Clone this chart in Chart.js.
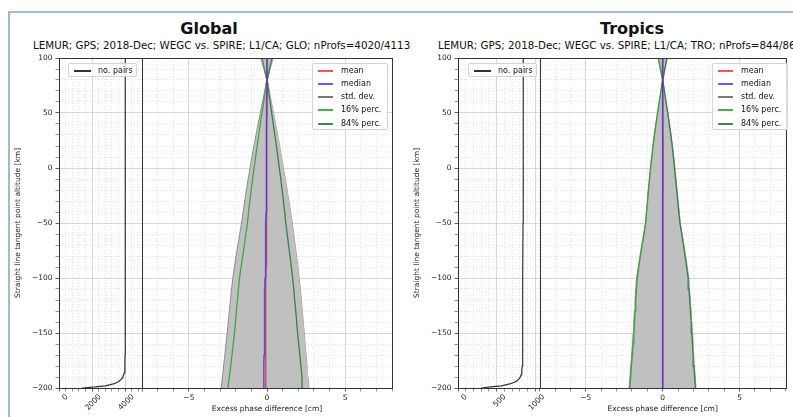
<!DOCTYPE html>
<html>
<head>
<meta charset="utf-8">
<script src="https://cdn.jsdelivr.net/npm/chart.js@4.4.1/dist/chart.umd.min.js"></script>
<style>
  body { margin: 0; width: 793px; height: 417px; overflow: hidden; background: #fff; position: relative; font-family: "DejaVu Sans", sans-serif; color: #111; }
  .frame { position: absolute; left: 8px; top: 11px; width: 900px; height: 500px; border-top: 2px solid #a3b6dd; border-left: 2px solid #a3b6dd; }
  .title { position: absolute; top: 21px; font-size: 16px; line-height: 16px; font-weight: bold; white-space: nowrap; transform: translateX(-50%); }
  .sub { position: absolute; top: 40px; font-size: 10.3px; line-height: 10px; white-space: nowrap; }
  .wrap { position: absolute; top: 50px; height: 367px; }
  .legend { position: absolute; background: rgba(255,255,255,0.85); border: 1px solid #d4d4d4; border-radius: 2px; font-size: 8px; box-sizing: border-box; }
  .row { position: absolute; left: 0; height: 10px; line-height: 10px; white-space: nowrap; }
  .row .ln { position: absolute; top: 4px; height: 2px; }
  .row .tx { position: absolute; top: 0; }
</style>
</head>
<body>
<div class="frame"></div>

<div class="title" style="left:209px">Global</div>
<div class="sub" style="left:33px">LEMUR; GPS; 2018-Dec; WEGC vs. SPIRE; L1/CA; GLO; nProfs=4020/4113</div>
<div class="title" style="left:632px">Tropics</div>
<div class="sub" style="left:438px">LEMUR; GPS; 2018-Dec; WEGC vs. SPIRE; L1/CA; TRO; nProfs=844/866</div>

<div class="wrap" style="left:10px;width:390px"><canvas id="glo"></canvas></div>
<div class="wrap" style="left:409px;width:384px"><canvas id="tro"></canvas></div>

<script>
// altitude levels [km], bottom to top
const alt = [-200, -190, -180, -170, -160, -150, -140, -130, -120, -110, -100, -90, -80, -70, -60, -50,
  -40, -30, -20, -10, 0, 10, 20, 30, 40, 50, 60, 70, 80, 90, 100];

// Global, excess phase difference [cm]
const gloStdLo = [-2.93, -2.85, -2.78, -2.70, -2.63, -2.55, -2.48, -2.41, -2.34, -2.27, -2.19, -2.09, -1.98, -1.87, -1.75, -1.63,
  -1.53, -1.43, -1.32, -1.21, -1.09, -0.97, -0.84, -0.71, -0.57, -0.43, -0.29, -0.15, -0.02, -0.20, -0.40];
const gloStdHi = [2.69, 2.62, 2.56, 2.50, 2.44, 2.38, 2.32, 2.26, 2.20, 2.13, 2.06, 1.98, 1.89, 1.80, 1.71, 1.62,
  1.51, 1.40, 1.29, 1.17, 1.05, 0.93, 0.81, 0.68, 0.55, 0.42, 0.28, 0.15, 0.02, 0.20, 0.40];
const gloP16 = [-2.50, -2.41, -2.32, -2.24, -2.16, -2.08, -2.02, -1.96, -1.89, -1.83, -1.76, -1.66, -1.55, -1.45, -1.35, -1.25,
  -1.18, -1.10, -1.01, -0.92, -0.83, -0.73, -0.63, -0.53, -0.43, -0.32, -0.21, -0.10, -0.01, -0.16, -0.32];
const gloP84 = [2.30, 2.24, 2.17, 2.10, 2.03, 1.96, 1.90, 1.84, 1.77, 1.71, 1.64, 1.56, 1.47, 1.38, 1.29, 1.20,
  1.13, 1.05, 0.97, 0.88, 0.79, 0.70, 0.60, 0.50, 0.40, 0.30, 0.20, 0.10, 0.01, 0.16, 0.32];
const gloMean = [-0.12, -0.11, -0.10, -0.09, -0.09, -0.085, -0.08, -0.075, -0.07, -0.07, -0.065, -0.06, -0.055, -0.05, -0.045, -0.04,
  -0.035, -0.03, -0.03, -0.025, -0.02, -0.015, -0.01, -0.01, -0.005, 0, 0, 0, 0, 0, 0];
const gloMedian = [-0.22, -0.21, -0.20, -0.19, -0.18, -0.17, -0.16, -0.15, -0.14, -0.13, -0.12, -0.11, -0.10, -0.09, -0.08, -0.07,
  -0.06, -0.05, -0.045, -0.04, -0.035, -0.03, -0.025, -0.02, -0.015, -0.01, -0.005, 0, 0, 0, 0];

// Tropics
const troStdLo = [-2.19, -2.13, -2.08, -2.02, -1.97, -1.92, -1.88, -1.84, -1.80, -1.75, -1.70, -1.59, -1.48, -1.36, -1.24, -1.12,
  -1.06, -1.00, -0.94, -0.87, -0.80, -0.72, -0.64, -0.55, -0.45, -0.34, -0.23, -0.12, -0.01, -0.15, -0.30];
const troStdHi = [2.17, 2.12, 2.07, 2.02, 1.98, 1.95, 1.90, 1.85, 1.80, 1.75, 1.70, 1.60, 1.50, 1.38, 1.27, 1.15,
  1.08, 1.01, 0.94, 0.87, 0.80, 0.72, 0.64, 0.55, 0.45, 0.34, 0.23, 0.12, 0.01, 0.15, 0.30];
const troP16 = [-2.14, -2.08, -2.03, -1.97, -1.92, -1.87, -1.83, -1.79, -1.75, -1.70, -1.65, -1.55, -1.44, -1.33, -1.21, -1.10,
  -1.04, -0.98, -0.92, -0.85, -0.78, -0.70, -0.62, -0.53, -0.43, -0.33, -0.22, -0.11, -0.01, -0.14, -0.28];
const troP84 = [2.13, 2.08, 2.03, 1.98, 1.94, 1.90, 1.86, 1.81, 1.76, 1.71, 1.66, 1.56, 1.46, 1.35, 1.24, 1.12,
  1.05, 0.98, 0.91, 0.84, 0.77, 0.70, 0.62, 0.53, 0.43, 0.33, 0.22, 0.11, 0.01, 0.14, 0.28];
const troMean = [0, 0, 0, 0, 0, 0, 0, 0, 0, 0, 0.01, 0.01, 0.01, 0.02, 0.02, 0.02,
  0.02, 0.02, 0.03, 0.03, 0.03, 0.03, 0.03, 0.02, 0.02, 0.02, 0.01, 0.01, 0, 0, 0];
const troMedian = [0, 0, 0, 0, 0, 0, 0, 0, 0, 0, 0, 0, 0, 0, 0, 0,
  0, 0, 0, 0, 0, 0, 0, 0, 0, 0, 0, 0, 0, 0, 0];

// number of pairs per altitude
const pairAlt = [-200, -199, -198, -197, -196, -195, -194, -193, -192, -191, -190, -188, -186, -184, -180, -170, -150, -100, -50, 0, 50, 100];
const gloPairs = [1400, 2200, 2800, 3100, 3350, 3500, 3620, 3700, 3770, 3820, 3860, 3920, 3960, 3980, 3995, 3998, 4000, 4005, 4010, 4015, 4018, 4020];
const troPairs = [300, 420, 560, 630, 680, 720, 750, 770, 785, 795, 805, 815, 822, 826, 830, 833, 835, 838, 840, 842, 843, 844];

const legendLabels = ["mean", "median", "std. dev.", "16% perc.", "84% perc."];

Chart.defaults.font.family = "DejaVu Sans";
Chart.defaults.color = "#222";

const tickFont = { size: 7.5 };
const fmt = v => (v < 0 ? "\u2212" + (-v) : String(v));
const pts = (xs, ys) => ys.map((y, i) => ({ x: xs[i], y: y }));

const frames = {
  id: "frames",
  afterDraw(chart) {
    const { ctx, chartArea: a } = chart;
    ctx.save();
    ctx.strokeStyle = "#333";
    ctx.lineWidth = 1;
    ["xn", "x"].forEach(id => {
      const s = chart.scales[id];
      ctx.strokeRect(Math.round(s.left) + 0.5, Math.round(a.top) + 0.5,
        Math.round(s.right - s.left), Math.round(a.bottom - a.top));
    });
    ctx.restore();
  }
};

function gridOpts(isMajor) {
  return {
    color: c => (isMajor(c.tick.value) ? "#cdcdcd" : "#dadada"),
    lineWidth: 0.8,
    tickLength: 3.5,
    tickColor: c => (isMajor(c.tick.value) ? "#333" : "#777")
  };
}
function borderOpts(isMajor) {
  return { display: false, dash: c => (isMajor(c.tick.value) ? [] : [1, 2]) };
}

function makePanel(id, s, padRight) {
  const majY = v => v % 50 === 0;
  const majX = v => v % 5 === 0;
  const majN = v => v % s.nMajor === 0;
  const line = (label, data, color, width, order, extra) => Object.assign({
    label: label, data: pts(data, alt), xAxisID: "x", yAxisID: "y",
    borderColor: color, borderWidth: width, pointRadius: 0, tension: 0, fill: false, order: order
  }, extra || {});

  const datasets = [
    line("std. dev. low", s.stdLo, "#7a7a7a", 0.8, 5, { fill: "+1", backgroundColor: "#c0c0c0" }),
    line("std. dev.", s.stdHi, "#7a7a7a", 0.8, 5),
    line("16% perc.", s.p16, "rgba(40,160,40,0.85)", 1.3, 4),
    line("84% perc.", s.p84, "rgba(30,115,50,0.85)", 1.3, 4),
    line("mean", s.mean, "rgba(235,45,45,0.8)", 1.5, 3),
    line("median", s.median, "rgba(55,55,235,0.8)", 1.5, 2),
    {
      label: "no. pairs", data: pts(s.pairs, pairAlt), xAxisID: "xn", yAxisID: "y",
      borderColor: "#333", borderWidth: 1.2, pointRadius: 0, tension: 0, fill: false, order: 1
    }
  ];

  return new Chart(document.getElementById(id), {
    type: "line",
    data: { datasets: datasets },
    options: {
      indexAxis: "y",
      responsive: true,
      maintainAspectRatio: false,
      animation: false,
      layout: { padding: { top: 8, right: padRight, left: 0, bottom: 0 } },
      plugins: { legend: { display: false }, tooltip: { enabled: false } },
      scales: {
        y: {
          type: "linear", position: "left", min: -200, max: 100,
          afterFit: sc => { sc.width = 49; },
          ticks: { stepSize: 10, autoSkip: false, font: tickFont, padding: 3, callback: v => (majY(v) ? fmt(v) : "") },
          grid: gridOpts(majY),
          border: borderOpts(majY),
          title: { display: true, text: "Straight line tangent point altitude [km]", font: tickFont, padding: { top: 4, bottom: 0 } }
        },
        xn: {
          type: "linear", position: "bottom", stack: "panel", stackWeight: 83,
          min: 0, max: s.nMax, bounds: "data",
          afterFit: sc => { sc.height = 29; },
          ticks: {
            stepSize: s.nMinor, includeBounds: false, autoSkip: false, minRotation: 45, maxRotation: 45,
            labelOffset: 8, padding: 1, font: tickFont, callback: v => (majN(v) ? String(v) : "")
          },
          grid: gridOpts(majN),
          border: borderOpts(majN)
        },
        x: {
          type: "linear", position: "bottom", stack: "panel", stackWeight: 250,
          min: -8, max: 8,
          afterFit: sc => { sc.height = 29; },
          ticks: { stepSize: 1, autoSkip: false, minRotation: 0, maxRotation: 0, padding: 2, font: tickFont, callback: v => (majX(v) ? fmt(v) : "") },
          grid: gridOpts(majX),
          border: borderOpts(majX),
          title: { display: true, text: "Excess phase difference [cm]", font: tickFont, padding: { top: 0, bottom: 3 } }
        }
      }
    },
    plugins: [frames]
  });
}

function addLegend(chart, left, top, width, labels, textLeft, lineLen) {
  const box = document.createElement("div");
  box.className = "legend";
  box.style.left = left + "px";
  box.style.top = top + "px";
  box.style.width = width + "px";
  box.style.height = (labels.length * 13.25 + 1) + "px";
  labels.forEach((lab, i) => {
    const ds = chart.data.datasets.find(d => d.label === lab);
    const row = document.createElement("div");
    row.className = "row";
    row.style.top = (1.5 + i * 13.25) + "px";
    row.innerHTML = '<div class="ln" style="left:5px;width:' + lineLen + 'px;background:' + ds.borderColor + '"></div>' +
      '<div class="tx" style="left:' + textLeft + 'px">' + lab + "</div>";
    box.appendChild(row);
  });
  document.body.appendChild(box);
}

const glo = makePanel("glo", {
  stdLo: gloStdLo, stdHi: gloStdHi, p16: gloP16, p84: gloP84, mean: gloMean, median: gloMedian,
  pairs: gloPairs, nMax: 5025, nMinor: 400, nMajor: 2000
}, 8);
const tro = makePanel("tro", {
  stdLo: troStdLo, stdHi: troStdHi, p16: troP16, p84: troP84, mean: troMean, median: troMedian,
  pairs: troPairs, nMax: 1055, nMinor: 100, nMajor: 500
}, 2);

addLegend(glo, 68, 63, 69, ["no. pairs"], 29, 17);
addLegend(glo, 312, 63, 76, legendLabels, 28, 15);
addLegend(tro, 468, 63, 69, ["no. pairs"], 29, 17);
addLegend(tro, 712, 63, 76, legendLabels, 28, 15);
</script>
</body>
</html>
